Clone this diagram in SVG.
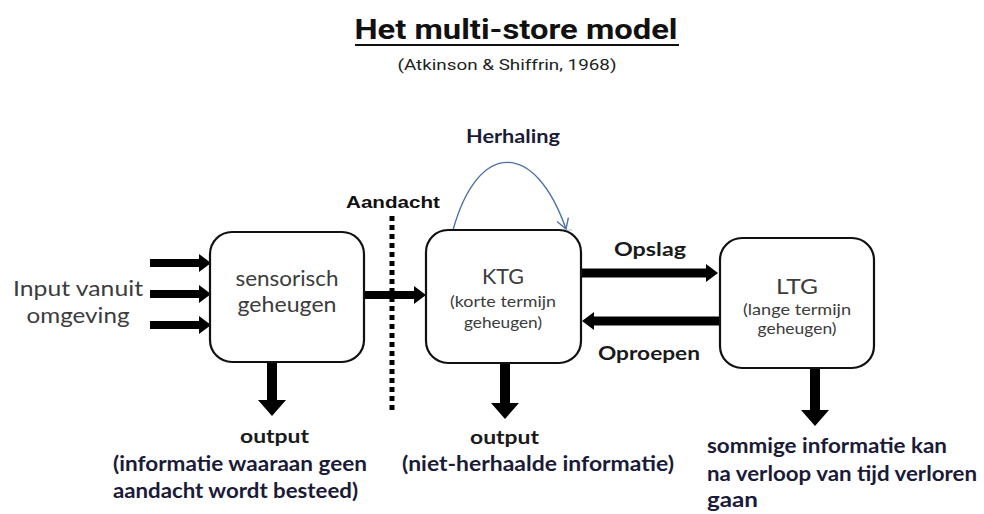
<svg xmlns="http://www.w3.org/2000/svg" width="984" height="514" viewBox="0 0 984 514">
<style>
.box{fill:#fff;stroke:#111;stroke-width:2.2}
.bt{font-family:Lato,"Open Sans",sans-serif;fill:#3c3c3c;text-anchor:middle}
.lab{font-family:Lato,"Open Sans",sans-serif;font-weight:bold;fill:#1a1a1a}
.note{font-family:Lato,"Open Sans",sans-serif;font-weight:bold;fill:#1b1b38;font-size:20.5px}
.thick{stroke:#000;fill:none}
</style>
<defs>
<marker id="hs" markerUnits="userSpaceOnUse" markerWidth="12" markerHeight="18" viewBox="0 0 12 18" refX="0" refY="9" orient="auto"><path d="M0,0 L12,9 L0,18 Z" fill="#000"/></marker>
<marker id="hb" markerUnits="userSpaceOnUse" markerWidth="16" markerHeight="28" viewBox="0 0 16 28" refX="0" refY="14" orient="auto"><path d="M0,0 L16,14 L0,28 Z" fill="#000"/></marker>
<marker id="hv" markerUnits="userSpaceOnUse" markerWidth="14" markerHeight="14" viewBox="0 0 14 14" refX="12" refY="7" orient="auto"><path d="M2,1 L12,7 L2,13" fill="none" stroke="#4a72a8" stroke-width="1.4"/></marker>
</defs>

<g id="title">
<text x="516" y="39" text-anchor="middle" font-family="Roboto,'DejaVu Sans Condensed',sans-serif" font-weight="bold" font-size="28" fill="#111" textLength="323" lengthAdjust="spacingAndGlyphs">Het multi-store model</text>
<line x1="355" y1="45" x2="679" y2="45" stroke="#111" stroke-width="2"/>
<text x="507" y="70" text-anchor="middle" font-family="Roboto,'DejaVu Sans Condensed',sans-serif" font-size="15.5" fill="#222" textLength="219" lengthAdjust="spacingAndGlyphs">(Atkinson &amp; Shiffrin, 1968)</text>
</g>

<g id="input">
<text class="bt" x="78" y="296" font-size="22" fill="#333" textLength="130" lengthAdjust="spacingAndGlyphs">Input vanuit</text>
<text class="bt" x="78" y="323" font-size="22" textLength="103" lengthAdjust="spacingAndGlyphs">omgeving</text>
</g>

<g id="aandacht">
<line x1="392" y1="216" x2="392" y2="413" stroke="#000" stroke-width="5" stroke-dasharray="5,4"/>
<text x="346" y="208" font-family="'Liberation Sans',Arial,sans-serif" font-weight="bold" font-size="17" fill="#111" textLength="94" lengthAdjust="spacingAndGlyphs">Aandacht</text>
</g>

<g id="connectors">
<line class="thick" x1="150" y1="263" x2="199" y2="263" stroke-width="8" marker-end="url(#hs)"/>
<line class="thick" x1="150" y1="294" x2="199" y2="294" stroke-width="8" marker-end="url(#hs)"/>
<line class="thick" x1="150" y1="325" x2="199" y2="325" stroke-width="8" marker-end="url(#hs)"/>
<line class="thick" x1="364" y1="295" x2="414" y2="295" stroke-width="8" marker-end="url(#hs)"/>
<line class="thick" x1="581" y1="273" x2="706" y2="273" stroke-width="9" marker-end="url(#hs)"/>
<line class="thick" x1="720" y1="321" x2="594" y2="321" stroke-width="9" marker-end="url(#hs)"/>
<line class="thick" x1="272" y1="362" x2="272" y2="400" stroke-width="10" marker-end="url(#hb)"/>
<line class="thick" x1="505" y1="363" x2="505" y2="403" stroke-width="10" marker-end="url(#hb)"/>
<line class="thick" x1="815" y1="368" x2="815" y2="410" stroke-width="10" marker-end="url(#hb)"/>
<path d="M453,230 C478,140 535,140 566,229" fill="none" stroke="#4a72a8" stroke-width="1.4" marker-end="url(#hv)"/>
<line x1="442" y1="230" x2="572" y2="230" stroke="#a8bcd8" stroke-width="1"/>
</g>

<g id="sensorisch">
<rect class="box" x="210" y="232" width="154" height="130" rx="22"/>
<text class="bt" x="287" y="286" font-size="21.5" textLength="103" lengthAdjust="spacingAndGlyphs">sensorisch</text>
<text class="bt" x="287" y="312" font-size="21.5" textLength="99" lengthAdjust="spacingAndGlyphs">geheugen</text>
</g>

<g id="ktg">
<rect class="box" x="426" y="230" width="155" height="133" rx="22"/>
<text class="bt" x="503" y="284" font-size="21" textLength="42" lengthAdjust="spacingAndGlyphs">KTG</text>
<text class="bt" x="503" y="307" font-size="16" textLength="106" lengthAdjust="spacingAndGlyphs">(korte termijn</text>
<text class="bt" x="503" y="328" font-size="16" textLength="78" lengthAdjust="spacingAndGlyphs">geheugen)</text>
</g>

<g id="herhaling">
<text x="466" y="143" font-family="Lato,'Open Sans',sans-serif" font-weight="bold" font-size="19" fill="#1b1b38" textLength="94" lengthAdjust="spacingAndGlyphs">Herhaling</text>
</g>

<g id="ltg">
<rect class="box" x="720" y="238" width="154" height="130" rx="22"/>
<text class="bt" x="797" y="294" font-size="21" textLength="42" lengthAdjust="spacingAndGlyphs">LTG</text>
<text class="bt" x="797" y="315" font-size="15" textLength="108" lengthAdjust="spacingAndGlyphs">(lange termijn</text>
<text class="bt" x="797" y="334" font-size="15" textLength="79" lengthAdjust="spacingAndGlyphs">geheugen)</text>
</g>

<g id="labels">
<text class="lab" x="614" y="256" font-size="19" textLength="72" lengthAdjust="spacingAndGlyphs">Opslag</text>
<text class="lab" x="598" y="360" font-size="19" textLength="102" lengthAdjust="spacingAndGlyphs">Oproepen</text>
</g>

<g id="out1">
<text class="lab" x="240" y="443" font-size="19" fill="#262626" textLength="69" lengthAdjust="spacingAndGlyphs">output</text>
<text class="note" x="113" y="471" textLength="254" lengthAdjust="spacingAndGlyphs">(informatie waaraan geen</text>
<text class="note" x="113" y="498" textLength="245" lengthAdjust="spacingAndGlyphs">aandacht wordt besteed)</text>
</g>

<g id="out2">
<text class="lab" x="470" y="444" font-size="19" fill="#262626" textLength="69" lengthAdjust="spacingAndGlyphs">output</text>
<text class="note" x="402" y="471" textLength="272" lengthAdjust="spacingAndGlyphs">(niet-herhaalde informatie)</text>
</g>

<g id="out3">
<text class="note" x="707" y="453" textLength="240" lengthAdjust="spacingAndGlyphs">sommige informatie kan</text>
<text class="note" x="707" y="481" textLength="270" lengthAdjust="spacingAndGlyphs">na verloop van tijd verloren</text>
<text class="note" x="707" y="507" textLength="51" lengthAdjust="spacingAndGlyphs">gaan</text>
</g>
</svg>
